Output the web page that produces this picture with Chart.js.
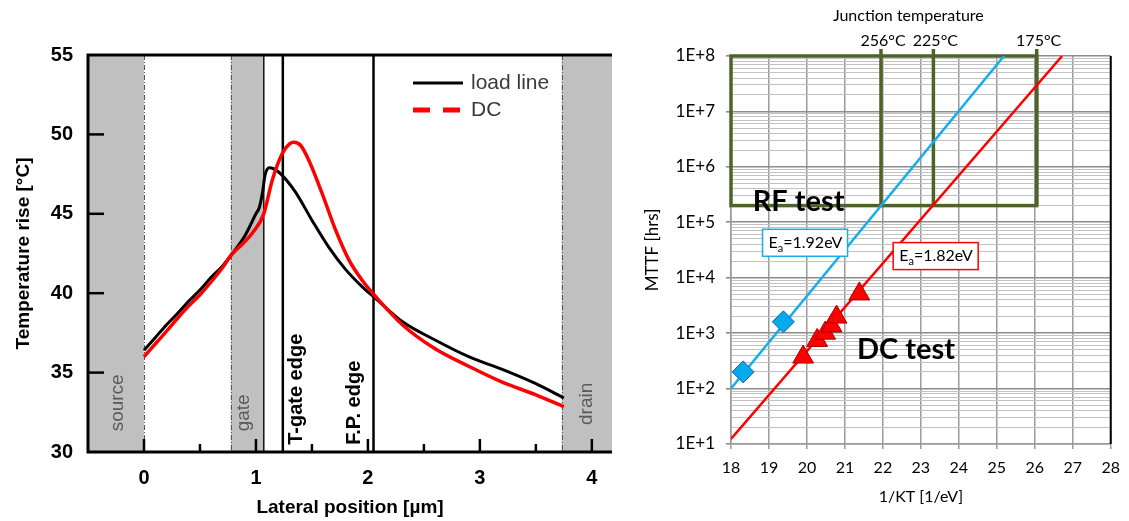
<!DOCTYPE html>
<html>
<head>
<meta charset="utf-8">
<script src="https://cdn.jsdelivr.net/npm/chart.js@4.4.1/dist/chart.umd.min.js"></script>
<style>
  html, body { margin: 0; padding: 0; background: #fff; }
  #wrap { position: relative; width: 1129px; height: 521px; overflow: hidden; }
  #profileChart { position: absolute; left: 0; top: 0; filter: blur(0.45px); }
  #mttfChart { position: absolute; left: 630px; top: 0; }
</style>
</head>
<body>
<div id="wrap">
  <canvas id="profileChart" width="630" height="521"></canvas>
  <canvas id="mttfChart" width="499" height="521"></canvas>
</div>
<script>
// ---- lateral temperature profile ----
const posX  = [0, 0.1, 0.2, 0.31, 0.4, 0.5, 0.6, 0.7, 0.79, 0.9, 1.0, 1.03, 1.06, 1.08, 1.12, 1.2, 1.35, 1.5, 1.65, 1.8, 1.95, 2.08, 2.31, 2.6, 2.9, 3.2, 3.5, 3.75];
const loadT = [36.4, 37.2, 38.0, 38.8, 39.5, 40.2, 41.0, 41.7, 42.5, 43.6, 45.0, 45.4, 46.4, 47.4, 47.9, 47.65, 46.4, 44.6, 42.9, 41.5, 40.4, 39.6, 38.2, 37.05, 36.0, 35.2, 34.3, 33.4];
const dcX   = [0, 0.1, 0.2, 0.31, 0.4, 0.5, 0.61, 0.7, 0.79, 0.88, 0.97, 1.07, 1.145, 1.235, 1.3, 1.34, 1.4, 1.47, 1.59, 1.71, 1.83, 1.95, 2.08, 2.31, 2.6, 2.9, 3.2, 3.5, 3.75];
const dcT   = [36.0, 36.8, 37.6, 38.5, 39.2, 39.9, 40.8, 41.6, 42.5, 43.1, 43.8, 45.0, 47.1, 48.8, 49.4, 49.5, 49.3, 48.4, 46.3, 44.0, 42.1, 40.8, 39.7, 38.0, 36.5, 35.4, 34.4, 33.6, 32.85];
const tempTicks = [30, 35, 40, 45, 50, 55];
const posTicks  = [0, 1, 2, 3, 4];
const regionNames = ['source', 'gate', 'drain'];
const regionFrom  = [-0.5, 0.774, 3.73];
const regionTo    = [0, 1.07, 4.18];
const regionLabelX = [-0.23, 0.89, 3.955];
const edgeNames = ['T-gate edge', 'F.P. edge'];
const edgeX     = [1.24, 2.05];
const edgeLabelX = [1.36, 1.88];

// ---- MTTF vs 1/kT ----
const invKT       = [18, 19, 20, 21, 22, 23, 24, 25, 26, 27, 28];
const mttfExp     = [1, 2, 3, 4, 5, 6, 7, 8];
const rfX         = [18.32, 19.38];
const rfMTTF      = [200, 1600];
const dcTestX     = [19.9, 20.27, 20.48, 20.65, 20.78, 21.38];
const dcTestMTTF  = [370, 740, 1000, 1350, 1950, 5100];
const rfFitX      = [18, 25.19];
const rfFitMTTF   = [100, 1e8];
const dcFitX      = [18, 26.72];
const dcFitMTTF   = [12.3, 1e8];
const junctionLabels = ['256°C', '225°C', '175°C'];
const junctionX      = [21.95, 23.33, 26.05];
const windowMTTF     = [2e5, 1e8];

const leftFont  = '"Liberation Sans", Arial, sans-serif';
const rightFont = 'Lato, "Open Sans", sans-serif';
const olive = '#4f6228';

function rotatedText(ctx, text, x, y) {
  ctx.save();
  ctx.translate(x, y);
  ctx.rotate(-Math.PI / 2);
  ctx.textAlign = 'left';
  ctx.textBaseline = 'middle';
  ctx.fillText(text, 0, 0);
  ctx.restore();
}

const profileDecor = {
  id: 'profileDecor',
  beforeDatasetsDraw(chart) {
    const { ctx, chartArea: a, scales: { x, y } } = chart;
    ctx.save();
    // contact / gate shading
    ctx.fillStyle = '#c0c0c0';
    regionFrom.forEach((f, i) => {
      const l = x.getPixelForValue(f), r = x.getPixelForValue(regionTo[i]);
      ctx.fillRect(l, a.top, r - l, a.bottom - a.top);
    });
    // dash-dot boundaries of the shaded regions
    ctx.strokeStyle = '#555';
    ctx.lineWidth = 1;
    ctx.setLineDash([5, 2, 1, 2]);
    [regionTo[0], regionFrom[1], regionFrom[2]].forEach(v => {
      const px = Math.round(x.getPixelForValue(v)) + 0.5;
      ctx.beginPath(); ctx.moveTo(px, a.top); ctx.lineTo(px, a.bottom); ctx.stroke();
    });
    ctx.setLineDash([]);
    ctx.strokeStyle = '#111';
    ctx.lineWidth = 1.5;
    const gr = x.getPixelForValue(regionTo[1]);
    ctx.beginPath(); ctx.moveTo(gr, a.top); ctx.lineTo(gr, a.bottom); ctx.stroke();
    // gate and field-plate edges
    ctx.strokeStyle = '#000';
    ctx.lineWidth = 2.5;
    edgeX.forEach(v => {
      const px = x.getPixelForValue(v);
      ctx.beginPath(); ctx.moveTo(px, a.top); ctx.lineTo(px, a.bottom); ctx.stroke();
    });
    // labels
    ctx.fillStyle = '#5a5a5a';
    ctx.font = '19px ' + leftFont;
    regionNames.forEach((n, i) => {
      const by = i === 2 ? 31.7 : 31.3;
      rotatedText(ctx, n, x.getPixelForValue(regionLabelX[i]), y.getPixelForValue(by));
    });
    ctx.fillStyle = '#000';
    ctx.font = 'bold 20px ' + leftFont;
    edgeNames.forEach((n, i) => {
      rotatedText(ctx, n, x.getPixelForValue(edgeLabelX[i]), y.getPixelForValue(30.45));
    });
    ctx.restore();
  },
  afterDraw(chart) {
    const { ctx, chartArea: a, scales: { x, y } } = chart;
    ctx.save();
    // frame
    ctx.strokeStyle = '#000';
    ctx.lineWidth = 3;
    ctx.beginPath();
    ctx.moveTo(a.right, a.top); ctx.lineTo(a.left, a.top);
    ctx.lineTo(a.left, a.bottom); ctx.lineTo(a.right, a.bottom);
    ctx.stroke();
    // inward tick marks
    ctx.lineWidth = 2.5;
    tempTicks.slice(1, -1).forEach(v => {
      const py = y.getPixelForValue(v);
      ctx.beginPath(); ctx.moveTo(a.left, py); ctx.lineTo(a.left + 16, py); ctx.stroke();
    });
    for (let v = 0; v <= 4; v += 0.5) {
      const px = x.getPixelForValue(v);
      const len = Number.isInteger(v) ? 13 : 8;
      ctx.beginPath(); ctx.moveTo(px, a.bottom); ctx.lineTo(px, a.bottom - len); ctx.stroke();
    }
    // legend
    const ds = chart.data.datasets;
    const lx = a.right - 199, ly = a.top + 28;
    ctx.font = '21px ' + leftFont;
    ctx.textBaseline = 'middle';
    ctx.fillStyle = '#3a3a3a';
    [ds[1], ds[0]].forEach((d, i) => {
      const yy = ly + i * 27;
      ctx.strokeStyle = d.borderColor;
      ctx.lineWidth = i === 0 ? 3 : 5;
      ctx.setLineDash(i === 0 ? [] : [17, 13]);
      ctx.beginPath(); ctx.moveTo(lx, yy); ctx.lineTo(lx + 50, yy); ctx.stroke();
      ctx.fillText(d.label, lx + 58, yy);
    });
    ctx.restore();
  }
};

new Chart(document.getElementById('profileChart'), {
  type: 'scatter',
  data: {
    datasets: [
      {
        label: 'DC',
        data: dcX.map((v, i) => ({ x: v, y: dcT[i] })),
        showLine: true, borderColor: '#ff0000', borderWidth: 3.5,
        pointRadius: 0, cubicInterpolationMode: 'monotone', order: 0
      },
      {
        label: 'load line',
        data: posX.map((v, i) => ({ x: v, y: loadT[i] })),
        showLine: true, borderColor: '#000', borderWidth: 3,
        pointRadius: 0, cubicInterpolationMode: 'monotone', order: 1
      }
    ]
  },
  options: {
    responsive: false,
    animation: false,
    layout: { padding: { top: 55, right: 18, bottom: 0, left: 0 } },
    plugins: { legend: { display: false }, tooltip: { enabled: false } },
    scales: {
      x: {
        type: 'linear', min: -0.5, max: 4.18,
        afterBuildTicks: s => { s.ticks = posTicks.map(v => ({ value: v })); },
        afterFit: s => { s.height = 69; },
        grid: { display: false, drawTicks: false },
        border: { display: false },
        ticks: { padding: 14, color: '#000', font: { family: leftFont, size: 20, weight: 'bold' } },
        title: {
          display: true, text: 'Lateral position [µm]', color: '#000',
          font: { family: leftFont, size: 19, weight: 'bold' }, padding: { top: 0, bottom: 2 }
        }
      },
      y: {
        type: 'linear', min: 30, max: 55,
        afterBuildTicks: s => { s.ticks = tempTicks.map(v => ({ value: v })); },
        afterFit: s => { s.width = 88; },
        grid: { display: false, drawTicks: false },
        border: { display: false },
        ticks: { padding: 15, color: '#000', font: { family: leftFont, size: 20, weight: 'bold' } },
        title: {
          display: true, text: 'Temperature rise [°C]', color: '#000',
          font: { family: leftFont, size: 19, weight: 'bold' }, padding: { top: 12, bottom: 0 }
        }
      }
    }
  },
  plugins: [profileDecor]
});

// ---- right panel ----
const isDecade = v => Math.abs(Math.log10(v) - Math.round(Math.log10(v))) < 1e-9;

function drawEaBox(ctx, cx, cy, color, value) {
  const w = 85, h = 27;
  ctx.fillStyle = '#fff';
  ctx.fillRect(cx - w / 2, cy - h / 2, w, h);
  ctx.strokeStyle = color;
  ctx.lineWidth = 1.5;
  ctx.strokeRect(cx - w / 2, cy - h / 2, w, h);
  ctx.fillStyle = '#000';
  ctx.textBaseline = 'alphabetic';
  ctx.textAlign = 'left';
  let tx = cx - w / 2 + 6;
  const base = cy + 5;
  ctx.font = '16px ' + rightFont;
  ctx.fillText('E', tx, base);
  tx += ctx.measureText('E').width;
  ctx.font = '11px ' + rightFont;
  ctx.fillText('a', tx, base + 4);
  tx += ctx.measureText('a').width;
  ctx.font = '16px ' + rightFont;
  ctx.fillText('=' + value + 'eV', tx, base);
}

const mttfDecor = {
  id: 'mttfDecor',
  beforeDatasetsDraw(chart) {
    const { ctx, scales: { x, y } } = chart;
    ctx.save();
    // RF test window
    ctx.strokeStyle = olive;
    ctx.lineWidth = 3.5;
    const l = x.getPixelForValue(invKT[0]);
    const r = x.getPixelForValue(junctionX[2]);
    const t = y.getPixelForValue(windowMTTF[1]);
    const b = y.getPixelForValue(windowMTTF[0]);
    ctx.strokeRect(l, t, r - l, b - t);
    junctionX.forEach(v => {
      const px = x.getPixelForValue(v);
      ctx.beginPath(); ctx.moveTo(px, t - 7); ctx.lineTo(px, b); ctx.stroke();
    });
    ctx.restore();
  },
  afterDraw(chart) {
    const { ctx, chartArea: a, scales: { x, y } } = chart;
    ctx.save();
    ctx.strokeStyle = '#000';
    ctx.lineWidth = 2;
    ctx.beginPath(); ctx.moveTo(a.right, a.top); ctx.lineTo(a.right, a.bottom); ctx.stroke();

    ctx.fillStyle = '#000';
    ctx.textAlign = 'center';
    ctx.textBaseline = 'middle';
    ctx.font = '16px ' + rightFont;
    ctx.fillText('Junction temperature', x.getPixelForValue(22.67), 16);
    junctionLabels.forEach((s, i) => {
      ctx.fillText(s, x.getPixelForValue(junctionX[i]) + 2, 41);
    });

    ctx.textAlign = 'left';
    ctx.font = 'bold 29px ' + rightFont;
    ctx.fillText('RF test', x.getPixelForValue(18.57), y.getPixelForValue(Math.pow(10, 5.37)));
    ctx.fillText('DC test', x.getPixelForValue(21.32), y.getPixelForValue(Math.pow(10, 2.71)));

    drawEaBox(ctx, x.getPixelForValue(19.95), y.getPixelForValue(Math.pow(10, 4.63)), '#19aee8', '1.92');
    drawEaBox(ctx, x.getPixelForValue(23.39), y.getPixelForValue(Math.pow(10, 4.39)), '#ff0000', '1.82');
    ctx.restore();
  }
};

new Chart(document.getElementById('mttfChart'), {
  type: 'scatter',
  data: {
    datasets: [
      {
        label: 'RF test',
        data: rfX.map((v, i) => ({ x: v, y: rfMTTF[i] })),
        pointStyle: 'rectRot', pointRadius: 11,
        backgroundColor: '#05a9ec', borderColor: '#1767a6', borderWidth: 1, order: 0
      },
      {
        label: 'DC test',
        data: dcTestX.map((v, i) => ({ x: v, y: dcTestMTTF[i] })),
        pointStyle: 'triangle', pointRadius: 12,
        backgroundColor: '#ff0000', borderColor: '#a50000', borderWidth: 1, order: 1
      },
      {
        label: 'RF fit',
        data: rfFitX.map((v, i) => ({ x: v, y: rfFitMTTF[i] })),
        showLine: true, pointRadius: 0, borderColor: '#14aee9', borderWidth: 2.5, order: 2
      },
      {
        label: 'DC fit',
        data: dcFitX.map((v, i) => ({ x: v, y: dcFitMTTF[i] })),
        showLine: true, pointRadius: 0, borderColor: '#ff0000', borderWidth: 2.5, order: 3
      }
    ]
  },
  options: {
    responsive: false,
    animation: false,
    layout: { padding: { top: 56, right: 15, bottom: 0, left: 0 } },
    plugins: { legend: { display: false }, tooltip: { enabled: false } },
    scales: {
      x: {
        type: 'linear', min: 18, max: 28,
        afterBuildTicks: s => { s.ticks = invKT.map(v => ({ value: v })); },
        afterFit: s => { s.height = 77; },
        grid: { color: '#9a9a9a', lineWidth: 1.5, tickLength: 5 },
        border: { color: '#9a9a9a', width: 1.5 },
        ticks: { padding: 9, color: '#000', font: { family: rightFont, size: 16 } },
        title: {
          display: true, text: '1/KT [1/eV]', color: '#000',
          font: { family: rightFont, size: 16 }, padding: { top: 0, bottom: 15 }
        }
      },
      y: {
        type: 'logarithmic', min: 10, max: 1e8,
        afterBuildTicks: s => {
          const t = [];
          mttfExp.forEach(e => {
            const d = Math.pow(10, e);
            t.push({ value: d });
            if (e < mttfExp[mttfExp.length - 1]) {
              for (let m = 2; m <= 9; m++) t.push({ value: m * d });
            }
          });
          s.ticks = t;
        },
        afterFit: s => { s.width = 101; },
        grid: {
          color: c => (c.tick && isDecade(c.tick.value)) ? '#8c8c8c' : '#c2c2c2',
          lineWidth: c => (c.tick && isDecade(c.tick.value)) ? 1.6 : 1,
          tickColor: c => (c.tick && isDecade(c.tick.value)) ? '#8c8c8c' : 'rgba(0,0,0,0)',
          tickLength: 5
        },
        border: { color: '#9a9a9a', width: 1.5 },
        ticks: {
          autoSkip: false, padding: 11, color: '#000',
          font: { family: rightFont, size: 17 },
          callback: v => isDecade(v) ? '1E+' + Math.round(Math.log10(v)) : ''
        },
        title: {
          display: true, text: 'MTTF [hrs]', color: '#000',
          font: { family: rightFont, size: 17 }, padding: { top: 12, bottom: 0 }
        }
      }
    }
  },
  plugins: [mttfDecor]
});
</script>
</body>
</html>
